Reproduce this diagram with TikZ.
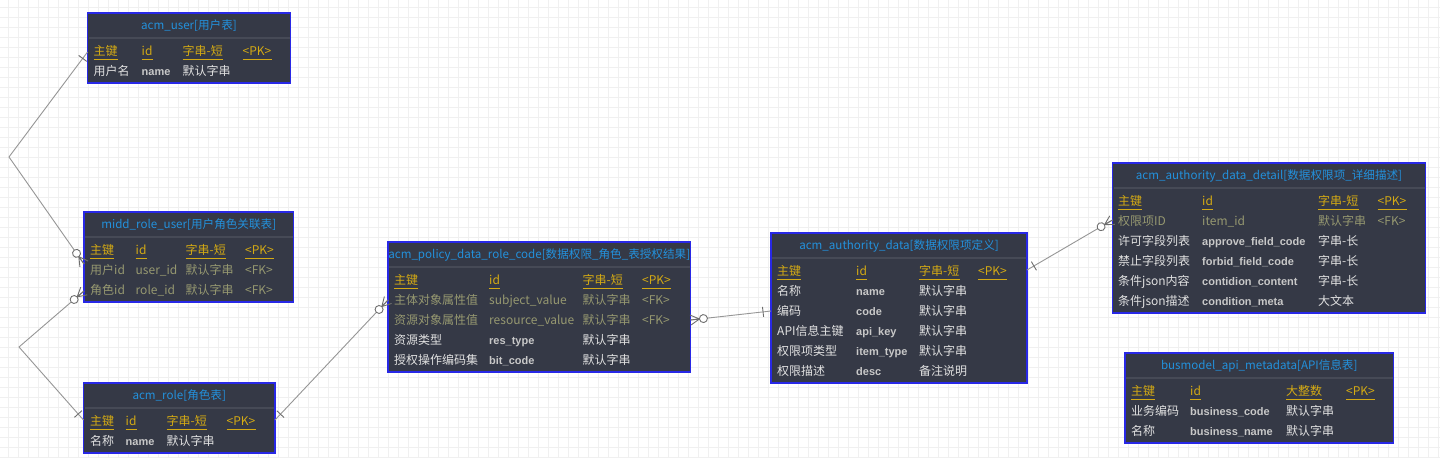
\documentclass[tikz,border=0pt]{standalone}
\usepackage{fontspec}
\setmainfont{Noto Sans CJK SC}
\newfontfamily\fieldfont{Liberation Sans}
\usepackage{tikz}
\usetikzlibrary{positioning,calc,decorations.markings}

\definecolor{boxfill}{RGB}{53,57,70}
\definecolor{boxline}{RGB}{40,40,230}
\definecolor{sepgray}{RGB}{70,74,86}
\definecolor{titleblue}{RGB}{35,145,220}
\definecolor{keygold}{RGB}{212,170,20}
\definecolor{fkolive}{RGB}{150,152,112}
\definecolor{plaintext}{RGB}{225,225,225}
\definecolor{fieldgray}{RGB}{200,200,200}
\definecolor{gridgray}{RGB}{240,240,240}
\definecolor{relgray}{RGB}{150,150,150}
\definecolor{markgray}{RGB}{110,110,110}

% one table: name, x, y, width, rows, title
\newcommand{\ertable}[6]{%
	\node[tablebox, minimum width=#4, minimum height=50+20*#5, anchor=north west] (#1) at (#2,#3) {};
	\node[tabletitle, anchor=base] (#1-title) at ($(#1.north)+(0,16.5)$) {#6};
	\draw[sepline] ($(#1.north west)+(1,25)$) -- ($(#1.north east)+(-1,25)$);
}
\newcommand{\setcols}[4]{\def\colA{#1}\def\colB{#2}\def\colC{#3}\def\colD{#4}}
% one row: table, row, style, four cells
\newcommand{\errow}[7]{%
	\node[#3] (#1-#2a) at ($(#1.north west)+(\colA,42.5+20*#2)$) {#4};
	\node[#3b] (#1-#2b) at ($(#1.north west)+(\colB,42.5+20*#2)$) {#5};
	\node[#3] (#1-#2c) at ($(#1.north west)+(\colC,42.5+20*#2)$) {#6};
	\node[#3] (#1-#2d) at ($(#1.north west)+(\colD,42.5+20*#2)$) {#7};
}
\newcommand{\erhead}[2]{%
	\errow{#1}{0}{keycell}{主键}{id}{#2}{<PK>}
	\foreach \c in {a,b,c,d}
		\draw[keyline] ([yshift=-3.5pt]#1-0\c.base west) -- ([yshift=-3.5pt]#1-0\c.base east);
}

\begin{document}
\begin{tikzpicture}[x=1pt, y=-1pt,
	tablebox/.style={draw=boxline, line width=1.5, fill=boxfill, inner sep=0, outer sep=0},
	tabletitle/.style={text=titleblue, inner sep=0, font=\fontsize{11.6}{14}\selectfont},
	sepline/.style={draw=sepgray, line width=2},
	cell/.style={inner sep=0, anchor=base west, font=\fontsize{12}{14}\selectfont},
	keycell/.style={cell, text=keygold},
	keycellb/.style={cell, text=keygold},
	fkcell/.style={cell, text=fkolive},
	fkcellb/.style={cell, text=fkolive},
	rowcell/.style={cell, text=plaintext},
	rowcellb/.style={cell, text=fieldgray, font=\fieldfont\bfseries\fontsize{11}{13}\selectfont},
	keyline/.style={draw=keygold, line width=1},
	gridline/.style={draw=gridgray, line width=1.2},
	relline/.style={draw=relgray, line width=0.9},
	relmark/.style={draw=markgray, line width=0.9},
	onestart/.style={postaction={decorate, decoration={markings, mark=at position 0 with {\draw[relmark] (8,-5) -- (8,5);}}}},
	oneend/.style={postaction={decorate, decoration={markings, mark=at position 1 with {\draw[relmark] (-8,-5) -- (-8,5);}}}},
	manystart/.style={postaction={decorate, decoration={markings, mark=at position 0 with {\draw[relmark] (0,-5) -- (9,0) -- (0,5) (0,0) -- (9,0); \draw[relmark, fill=white] (13,0) circle[radius=4pt];}}}},
	manyend/.style={postaction={decorate, decoration={markings, mark=at position 1 with {\draw[relmark] (0,-5) -- (-9,0) -- (0,5) (0,0) -- (-9,0); \draw[relmark, fill=white] (-13,0) circle[radius=4pt];}}}}
	]
	
	\useasboundingbox (0,0) rectangle (1440,458);
	\fill[white] (0,0) rectangle (1440,458);
	\foreach \gx in {0,...,143}
		\draw[gridline] (\gx*10+8.7,0) -- (\gx*10+8.7,458);
	\foreach \gy in {0,...,45}
		\draw[gridline] (0,\gy*10+7.3) -- (1440,\gy*10+7.3);
	
	\ertable{user}{87.5}{13}{203}{1}{acm\_user[用户表]}
	\setcols{6}{54}{95}{155}
	\erhead{user}{字串-短}
	\errow{user}{1}{rowcell}{用户名}{name}{默认字串}{}
	
	\ertable{roleuser}{84}{212}{209.5}{2}{midd\_role\_user[用户角色关联表]}
	\setcols{6}{51.5}{101.5}{161}
	\erhead{roleuser}{字串-短}
	\errow{roleuser}{1}{fkcell}{用户id}{user\_id}{默认字串}{<FK>}
	\errow{roleuser}{2}{fkcell}{角色id}{role\_id}{默认字串}{<FK>}
	
	\ertable{role}{83.5}{383}{191.5}{1}{acm\_role[角色表]}
	\setcols{6.5}{42}{83}{143}
	\erhead{role}{字串-短}
	\errow{role}{1}{rowcell}{名称}{name}{默认字串}{}
	
	\ertable{policy}{388}{242}{302.5}{4}{acm\_policy\_data\_role\_code[数据权限\_角色\_表授权结果]}
	\setcols{6}{101}{194.5}{254}
	\erhead{policy}{字串-短}
	\errow{policy}{1}{fkcell}{主体对象属性值}{subject\_value}{默认字串}{<FK>}
	\errow{policy}{2}{fkcell}{资源对象属性值}{resource\_value}{默认字串}{<FK>}
	\errow{policy}{3}{rowcell}{资源类型}{res\_type}{默认字串}{}
	\errow{policy}{4}{rowcell}{授权操作编码集}{bit\_code}{默认字串}{}
	
	\ertable{auth}{771}{233}{256}{5}{acm\_authority\_data[数据权限项定义]}
	\setcols{6}{85}{148}{207}
	\erhead{auth}{字串-短}
	\errow{auth}{1}{rowcell}{名称}{name}{默认字串}{}
	\errow{auth}{2}{rowcell}{编码}{code}{默认字串}{}
	\errow{auth}{3}{rowcell}{API信息主键}{api\_key}{默认字串}{}
	\errow{auth}{4}{rowcell}{权限项类型}{item\_type}{默认字串}{}
	\errow{auth}{5}{rowcell}{权限描述}{desc}{备注说明}{}
	
	\ertable{detail}{1112.5}{163}{313}{5}{acm\_authority\_data\_detail[数据权限项\_详细描述]}
	\setcols{5.5}{89.5}{205.5}{265}
	\erhead{detail}{字串-短}
	\errow{detail}{1}{fkcell}{权限项ID}{item\_id}{默认字串}{<FK>}
	\errow{detail}{2}{rowcell}{许可字段列表}{approve\_field\_code}{字串-长}{}
	\errow{detail}{3}{rowcell}{禁止字段列表}{forbid\_field\_code}{字串-长}{}
	\errow{detail}{4}{rowcell}{条件json内容}{contidion\_content}{字串-长}{}
	\errow{detail}{5}{rowcell}{条件json描述}{condition\_meta}{大文本}{}
	
	\ertable{api}{1125}{353}{268.5}{2}{busmodel\_api\_metadata[API信息表]}
	\setcols{6}{65}{161}{221}
	\erhead{api}{大整数}
	\errow{api}{1}{rowcell}{业务编码}{business\_code}{默认字串}{}
	\errow{api}{2}{rowcell}{名称}{business\_name}{默认字串}{}
	
	\coordinate (userW) at ($(user.north west)+(0,39)$);
	\coordinate (ruW1) at ($(roleuser.north west)+(0,52)$);
	\coordinate (ruW2) at ($(roleuser.north west)+(0,79)$);
	\coordinate (roleW) at ($(role.north west)+(0,37)$);
	\coordinate (roleE) at ($(role.north east)+(0,37)$);
	\coordinate (policyW) at ($(policy.north west)+(0,58)$);
	\coordinate (policyE) at ($(policy.north east)+(0,78)$);
	\coordinate (authW) at ($(auth.north west)+(0,78)$);
	\coordinate (authE) at ($(auth.north east)+(0,37)$);
	\coordinate (detailW) at ($(detail.north west)+(0,57)$);
	\coordinate (bendA) at (9,157);
	\coordinate (bendB) at (19,347);
	
	\draw[relline, onestart, manyend] (userW) -- (bendA) -- (ruW1);
	\draw[relline, onestart, manyend] (roleW) -- (bendB) -- (ruW2);
	\draw[relline, onestart, manyend] (roleE) -- (policyW);
	\draw[relline, manystart, oneend] (policyE) -- (authW);
	\draw[relline, onestart, manyend] (authE) -- (detailW);
	
\end{tikzpicture}
\end{document}
